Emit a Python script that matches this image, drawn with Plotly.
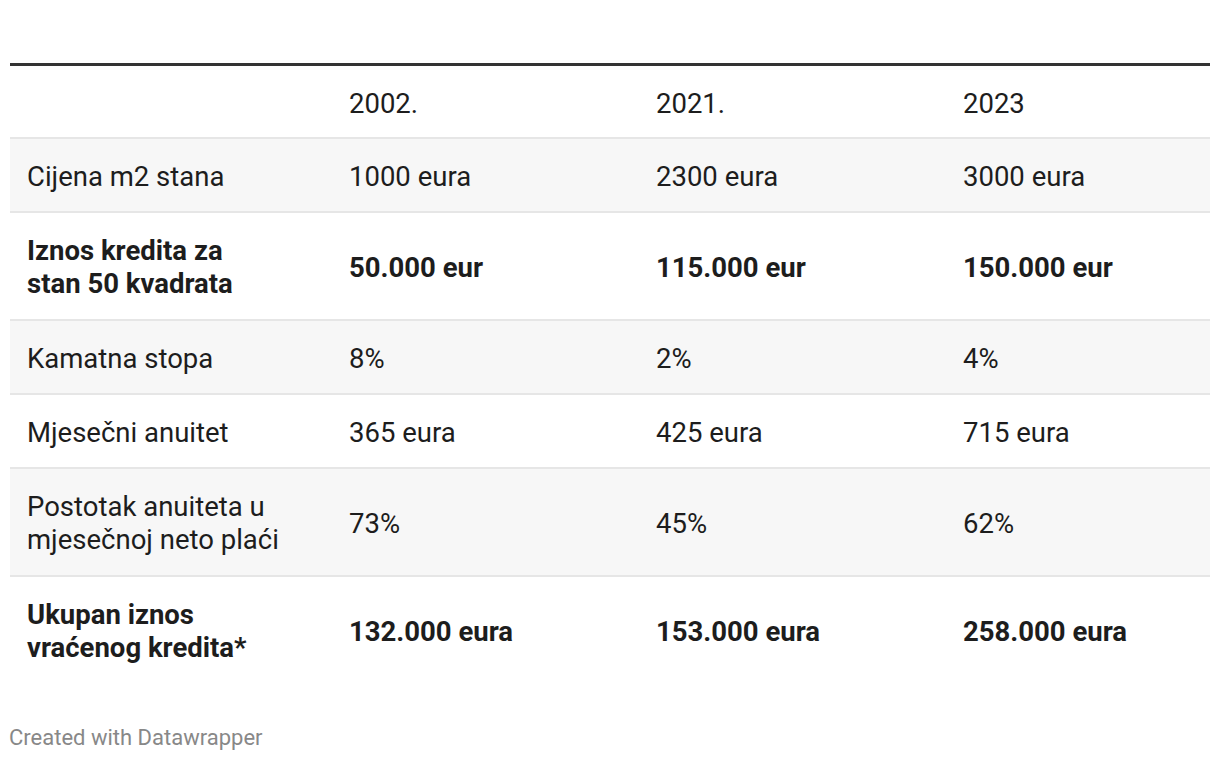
import plotly.graph_objects as go

# table content
years = ["2002.", "2021.", "2023"]
row_labels = [
    "Cijena m2 stana",
    "Iznos kredita za<br>stan 50 kvadrata",
    "Kamatna stopa",
    "Mjesečni anuitet",
    "Postotak anuiteta u<br>mjesečnoj neto plaći",
    "Ukupan iznos<br>vraćenog kredita*",
]
values_2002 = ["1000 eura", "50.000 eur", "8%", "365 eura", "73%", "132.000 eura"]
values_2021 = ["2300 eura", "115.000 eur", "2%", "425 eura", "45%", "153.000 eura"]
values_2023 = ["3000 eura", "150.000 eur", "4%", "715 eura", "62%", "258.000 eura"]
bold_rows = [False, True, False, False, False, True]

# the html body has an 8px margin, so the axes are offset to keep page pixels
PAGE_W, PAGE_H, BODY = 1220, 760, 8
LEFT, RIGHT = 10, 1210
TOP = 66
HEADER_H = 72
LINE_H = 33
TEXT_DY = 4
col_x = [27, 349, 656, 963]
FONT = "Roboto, 'Noto Sans', sans-serif"
FS = 27.5
TXT = "#1d1d1d"

# row geometry from number of text lines
n_lines = [lab.count("<br>") + 1 for lab in row_labels]
row_h = [40 + 34 * n for n in n_lines]
edges = [TOP + HEADER_H]
for h in row_h:
    edges.append(edges[-1] + h)
centers = [(edges[i] + edges[i + 1]) / 2 for i in range(len(row_h))]
header_y = TOP + HEADER_H / 2

fig = go.Figure()

# shaded rows + separators
for i in range(len(row_h)):
    if i % 2 == 0:
        fig.add_shape(type="rect", x0=LEFT, x1=RIGHT, y0=edges[i], y1=edges[i + 1],
                      line=dict(width=0), fillcolor="#f7f7f7", layer="below")
for e in edges[:-1]:
    fig.add_shape(type="line", x0=LEFT, x1=RIGHT, y0=e, y1=e,
                  line=dict(color="#e6e6e6", width=2))
fig.add_shape(type="line", x0=LEFT, x1=RIGHT, y0=TOP - 1.5, y1=TOP - 1.5,
              line=dict(color="#333333", width=3))


def fmt(s, b):
    return f"<b>{s}</b>" if b else s


def add_text(xs, ys, texts):
    fig.add_trace(go.Scatter(
        x=xs, y=ys, text=texts, mode="text", textposition="middle right",
        textfont=dict(family=FONT, size=FS, color=TXT),
        hoverinfo="skip", showlegend=False,
    ))


# header
add_text(col_x[1:], [header_y + TEXT_DY] * len(years), years)

# body: split multi-line cells so the line spacing can be set
columns = [row_labels, values_2002, values_2021, values_2023]
for cx, col in zip(col_x, columns):
    xs, ys, ts = [], [], []
    for s, b, cy in zip(col, bold_rows, centers):
        parts = s.split("<br>")
        for k, p in enumerate(parts):
            xs.append(cx)
            ys.append(cy + TEXT_DY + (k - (len(parts) - 1) / 2) * LINE_H)
            ts.append(fmt(p, b))
    add_text(xs, ys, ts)

fig.add_annotation(x=LEFT, y=737, xref="x", yref="y", text="Created with Datawrapper",
                   showarrow=False, xanchor="left", yanchor="middle", xshift=-3,
                   font=dict(family=FONT, size=22, color="#888888"))

fig.update_layout(
    width=PAGE_W - 2 * BODY, height=PAGE_H - 2 * BODY, autosize=False,
    margin=dict(l=0, r=0, t=0, b=0),
    paper_bgcolor="white", plot_bgcolor="white",
    hovermode=False,
    xaxis=dict(range=[BODY, PAGE_W - BODY], visible=False, fixedrange=True),
    yaxis=dict(range=[PAGE_H - BODY, BODY], visible=False, fixedrange=True),
)
fig.write_html("out.html", config={"displayModeBar": False})
